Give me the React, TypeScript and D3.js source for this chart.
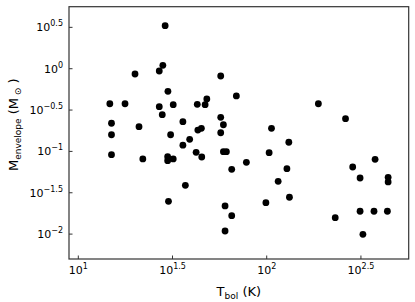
import React from 'react';
import { scaleLog } from 'd3';

// bolometric temperature (K) and envelope mass (Msun)
const tbol = [14.7, 17.7, 15.0, 15.0, 15.0, 20.0, 21.0, 22.0, 28.9, 28.1, 26.9, 29.9, 26.9, 31.9, 27.9, 35.9,
  30.9, 39.0, 35.9, 29.8, 29.8, 31.9, 42.2, 45.2, 42.8, 48.1, 47.1, 43.1, 45.0, 57.0, 69.0, 57.0, 58.9, 57.0,
  58.9, 61.1, 65.2, 37.0, 30.1, 60.1, 65.2, 60.1, 188, 262, 106, 131, 78.0, 103, 128, 115, 132, 99.0, 231,
  286, 376, 313, 441, 441, 313, 371, 437, 324];
const menv = [0.377, 0.377, 0.219, 0.159, 0.0912, 0.863, 0.199, 0.0810, 3.31, 1.10, 0.938, 0.533, 0.347, 0.367,
  0.278, 0.229, 0.159, 0.140, 0.119, 0.0863, 0.0772, 0.0810, 0.0975, 0.0856, 0.371, 0.430, 0.367, 0.181, 0.190,
  0.816, 0.468, 0.258, 0.210, 0.168, 0.0992, 0.0992, 0.0608, 0.0389, 0.0249, 0.0219, 0.0167, 0.0109, 0.377,
  0.249, 0.190, 0.129, 0.0738, 0.0964, 0.0618, 0.0435, 0.0279, 0.0240, 0.0158, 0.0648, 0.0802, 0.0477, 0.0486,
  0.0427, 0.0189, 0.0189, 0.0189, 0.00995];

const xTickExps = ['1', '1.5', '2', '2.5'];
const yTickExps = ['\u22122', '\u22121.5', '\u22121', '\u22120.5', '0', '0.5'];

const width = 415;
const height = 302;
const margin = { top: 6.7, right: 6.3, bottom: 43, left: 69 };
const font = 'DejaVu Sans, sans-serif';

const expVal = (s: string) => Math.pow(10, +s.replace('\u2212', '-'));

export default function App() {
  const innerW = width - margin.left - margin.right;
  const innerH = height - margin.top - margin.bottom;

  const x = scaleLog().domain([8.925, 567]).range([0, innerW]);
  const y = scaleLog().domain([0.005, 5.62]).range([innerH, 0]);

  return (
    <svg width={width} height={height} style={{ position: 'absolute', left: 0, top: 0 }} fontFamily={font}>
      <rect width={width} height={height} fill="#fff" />
      <g transform={`translate(${margin.left},${margin.top})`}>
        {tbol.map((t, i) => (
          <circle key={i} cx={x(t)} cy={y(menv[i])} r={3.4} fill="#000" />
        ))}
        <rect width={innerW} height={innerH} fill="none" stroke="#333" strokeWidth={1.2} />
        {xTickExps.map((e) => {
          const px = x(expVal(e));
          return (
            <g key={e} transform={`translate(${px},0)`}>
              <line y1={innerH} y2={innerH - 3.5} stroke="#333" />
              <text y={innerH + 15} fontSize={11} textAnchor="middle">
                10<tspan fontSize={8} dy={-5}>{e}</tspan>
              </text>
            </g>
          );
        })}
        {yTickExps.map((e) => {
          const py = y(expVal(e));
          return (
            <g key={e} transform={`translate(0,${py})`}>
              <line x1={0} x2={3.5} stroke="#333" />
              <text x={-6} y={4} fontSize={11} textAnchor="end">
                10<tspan fontSize={8} dy={-5}>{e}</tspan>
              </text>
            </g>
          );
        })}
        <text x={innerW / 2} y={innerH + 37.5} fontSize={13} textAnchor="middle">
          T<tspan fontSize={9} dy={2.5}>bol</tspan>
          <tspan dy={-2.5}> (K)</tspan>
        </text>
        <text transform={`translate(${-51},${118}) rotate(-90)`} fontSize={13} textAnchor="middle">
          M<tspan fontSize={9} dy={3}>envelope</tspan>
          <tspan dy={-3}> (M</tspan>
          <tspan fontSize={9} dy={3}> {'\u2299'}</tspan>
          <tspan dy={-3}> )</tspan>
        </text>
      </g>
    </svg>
  );
}
